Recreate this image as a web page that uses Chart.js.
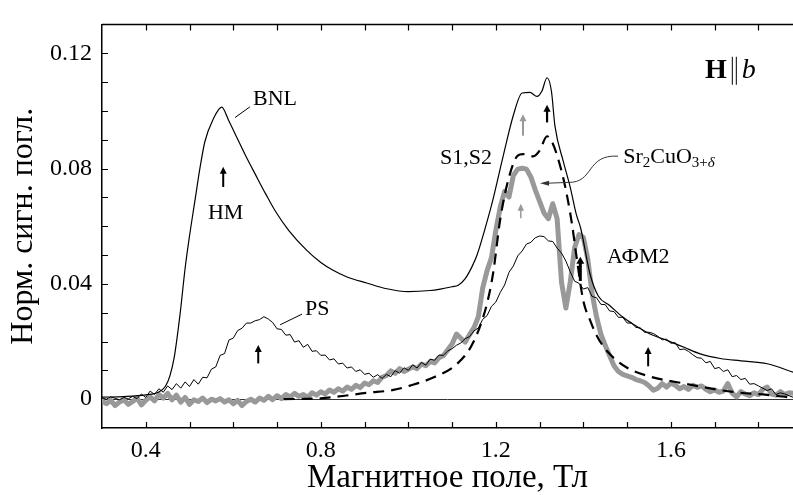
<!DOCTYPE html>
<html>
<head>
<meta charset="utf-8">
<script src="https://cdn.jsdelivr.net/npm/chart.js@4.4.1/dist/chart.umd.min.js"></script>
<style>
  html, body { margin: 0; padding: 0; background: #fff; }
  canvas { display: block; }
</style>
</head>
<body>
<canvas id="chart" width="793" height="495"></canvas>
<script>
// field grid (T) on which the two noisy traces were read
const gridField = [
  0.30, 0.31, 0.32, 0.33, 0.34, 0.35, 0.36, 0.37, 0.38, 0.39,
  0.40, 0.41, 0.42, 0.43, 0.44, 0.45, 0.46, 0.47, 0.48, 0.49,
  0.50, 0.51, 0.52, 0.53, 0.54, 0.55, 0.56, 0.57, 0.58, 0.59,
  0.60, 0.61, 0.62, 0.63, 0.64, 0.65, 0.66, 0.67, 0.68, 0.69,
  0.70, 0.71, 0.72, 0.73, 0.74, 0.75, 0.76, 0.77, 0.78, 0.79,
  0.80, 0.81, 0.82, 0.83, 0.84, 0.85, 0.86, 0.87, 0.88, 0.89,
  0.90, 0.91, 0.92, 0.93, 0.94, 0.95, 0.96, 0.97, 0.98, 0.99,
  1.00, 1.01, 1.02, 1.03, 1.04, 1.05, 1.06, 1.07, 1.08, 1.09,
  1.10, 1.11, 1.12, 1.13, 1.14, 1.15, 1.16, 1.17, 1.18, 1.19,
  1.20, 1.21, 1.22, 1.23, 1.24, 1.25, 1.26, 1.27, 1.28, 1.29,
  1.30, 1.31, 1.32, 1.33, 1.34, 1.35, 1.36, 1.37, 1.38, 1.39,
  1.40, 1.41, 1.42, 1.43, 1.44, 1.45, 1.46, 1.47, 1.48, 1.49,
  1.50, 1.51, 1.52, 1.53, 1.54, 1.55, 1.56, 1.57, 1.58, 1.59,
  1.60, 1.61, 1.62, 1.63, 1.64, 1.65, 1.66, 1.67, 1.68, 1.69,
  1.70, 1.71, 1.72, 1.73, 1.74, 1.75, 1.76, 1.77, 1.78, 1.79,
  1.80, 1.81, 1.82, 1.83, 1.84, 1.85, 1.86, 1.87, 1.88
];

// PS sample (thin noisy black line)
const psSignal = [
  0.0004, 0.0000, 0.0008, 0.0003, -0.0002, 0.0006, 0.0001, 0.0010, 0.0002, 0.0018,
  0.0006, 0.0028, 0.0016, 0.0036, 0.0024, 0.0046, 0.0033, 0.0054, 0.0038, 0.0060,
  0.0044, 0.0068, 0.0052, 0.0076, 0.0074, 0.0104, 0.0112, 0.0152, 0.0158, 0.0205,
  0.0212, 0.0238, 0.0246, 0.0264, 0.0264, 0.0272, 0.0276, 0.0286, 0.0278, 0.0266,
  0.0244, 0.0242, 0.0222, 0.0224, 0.0198, 0.0203, 0.0180, 0.0190, 0.0166, 0.0168,
  0.0152, 0.0153, 0.0136, 0.0140, 0.0122, 0.0125, 0.0108, 0.0112, 0.0096, 0.0102,
  0.0086, 0.0090, 0.0076, 0.0085, 0.0072, 0.0086, 0.0078, 0.0099, 0.0090, 0.0109,
  0.0100, 0.0119, 0.0108, 0.0127, 0.0118, 0.0139, 0.0135, 0.0153, 0.0152, 0.0167,
  0.0175, 0.0187, 0.0195, 0.0210, 0.0217, 0.0237, 0.0247, 0.0277, 0.0290, 0.0322,
  0.0337, 0.0370, 0.0396, 0.0440, 0.0462, 0.0497, 0.0514, 0.0538, 0.0544, 0.0560,
  0.0566, 0.0564, 0.0549, 0.0547, 0.0524, 0.0507, 0.0479, 0.0442, 0.0409, 0.0402,
  0.0382, 0.0387, 0.0356, 0.0352, 0.0329, 0.0328, 0.0306, 0.0304, 0.0284, 0.0284,
  0.0264, 0.0264, 0.0249, 0.0247, 0.0232, 0.0232, 0.0228, 0.0218, 0.0206, 0.0208,
  0.0194, 0.0196, 0.0172, 0.0174, 0.0166, 0.0154, 0.0144, 0.0142, 0.0126, 0.0131,
  0.0106, 0.0110, 0.0096, 0.0102, 0.0078, 0.0082, 0.0068, 0.0072, 0.0052, 0.0054,
  0.0046, 0.0038, 0.0030, 0.0036, 0.0016, 0.0022, 0.0018, 0.0012, 0.0006
];

// Sr2CuO3+d (thick grey line)
const srSignal = [
  -0.0006, -0.0016, -0.0004, -0.0022, -0.0010, -0.0002, -0.0018, -0.0008, 0.0004, -0.0020,
  -0.0004, 0.0008, -0.0006, 0.0016, 0.0004, 0.0020, -0.0002, 0.0014, -0.0010, 0.0006,
  -0.0018, -0.0002, -0.0008, 0.0004, -0.0012, 0.0000, -0.0006, 0.0002, -0.0010, -0.0002,
  -0.0016, -0.0004, -0.0022, -0.0008, 0.0000, -0.0010, 0.0004, -0.0004, 0.0010, -0.0002,
  0.0012, 0.0002, 0.0016, 0.0008, 0.0020, 0.0010, 0.0016, 0.0006, 0.0022, 0.0014,
  0.0026, 0.0018, 0.0032, 0.0024, 0.0036, 0.0028, 0.0042, 0.0034, 0.0048, 0.0040,
  0.0056, 0.0050, 0.0064, 0.0058, 0.0076, 0.0082, 0.0098, 0.0090, 0.0106, 0.0096,
  0.0104, 0.0112, 0.0106, 0.0122, 0.0116, 0.0131, 0.0126, 0.0144, 0.0151, 0.0171,
  0.0191, 0.0226, 0.0211, 0.0198, 0.0224, 0.0248, 0.0286, 0.0386, 0.0446, 0.0491,
  0.0586, 0.0666, 0.0721, 0.0701, 0.0776, 0.0798, 0.0801, 0.0798, 0.0771, 0.0726,
  0.0686, 0.0646, 0.0626, 0.0678, 0.0626, 0.0406, 0.0316, 0.0406, 0.0526, 0.0571,
  0.0561, 0.0486, 0.0366, 0.0286, 0.0226, 0.0186, 0.0151, 0.0116, 0.0096, 0.0086,
  0.0081, 0.0076, 0.0068, 0.0064, 0.0058, 0.0046, 0.0031, 0.0038, 0.0054, 0.0042,
  0.0056, 0.0048, 0.0036, 0.0044, 0.0034, 0.0048, 0.0041, 0.0046, 0.0034, 0.0026,
  0.0032, 0.0024, 0.0028, 0.0054, 0.0021, 0.0008, 0.0026, 0.0018, 0.0012, 0.0022,
  0.0016, 0.0034, 0.0042, 0.0018, 0.0014, 0.0026, 0.0016, 0.0022, 0.0020
];

// BNL sample (thin smooth black line)
const bnlField = [
  0.30, 0.35, 0.40, 0.43, 0.445, 0.455, 0.465, 0.478, 0.49, 0.499,
  0.512, 0.524, 0.535, 0.554, 0.5735, 0.59, 0.609, 0.628, 0.651, 0.674,
  0.697, 0.727, 0.768, 0.80, 0.828, 0.86, 0.905, 0.951, 1.00, 1.05,
  1.073, 1.10, 1.114, 1.13, 1.145, 1.157, 1.175, 1.191, 1.217, 1.24,
  1.26, 1.278, 1.294, 1.305, 1.317, 1.327, 1.335, 1.355, 1.37, 1.384,
  1.394, 1.415, 1.434, 1.46, 1.49, 1.514, 1.55, 1.591, 1.63, 1.667,
  1.713, 1.76, 1.82, 1.88
];
const bnlSignal = [
  0.0007, 0.0009, 0.0015, 0.0025, 0.0045, 0.0080, 0.0145, 0.0290, 0.0455, 0.0556,
  0.0685, 0.0803, 0.0893, 0.0971, 0.1013, 0.0965, 0.0905, 0.0845, 0.0778, 0.0712,
  0.0650, 0.0585, 0.0516, 0.0474, 0.0447, 0.0424, 0.0403, 0.0383, 0.0373, 0.0377,
  0.0382, 0.0390, 0.0395, 0.0418, 0.0458, 0.0500, 0.0590, 0.0678, 0.0845, 0.0985,
  0.1062, 0.1064, 0.1050, 0.1068, 0.1115, 0.1068, 0.0948, 0.0820, 0.0735, 0.0640,
  0.0592, 0.0435, 0.0358, 0.0325, 0.0285, 0.0260, 0.0228, 0.0204, 0.0180, 0.0157,
  0.0141, 0.0133, 0.0123, 0.0093
];

// dashed black curve
const fitField = [
  0.715, 0.80, 0.85, 0.905, 0.966, 1.004, 1.057, 1.111, 1.149, 1.18,
  1.194, 1.21, 1.23, 1.25, 1.262, 1.285, 1.30, 1.317, 1.33, 1.342,
  1.354, 1.365, 1.374, 1.385, 1.40, 1.415, 1.43, 1.454, 1.50, 1.553,
  1.628, 1.742, 1.82, 1.88
];
const fitSignal = [
  0.0000, 0.0003, 0.0011, 0.0022, 0.0032, 0.0047, 0.0075, 0.0122, 0.0199, 0.0333,
  0.0440, 0.0624, 0.0770, 0.0845, 0.0850, 0.0842, 0.0862, 0.0912, 0.0887, 0.0835,
  0.0767, 0.0687, 0.0607, 0.0487, 0.0340, 0.0275, 0.0222, 0.0167, 0.0109, 0.0078,
  0.0055, 0.0025, 0.0015, 0.0005
];

// axes
const xLabelTicks = [0.4, 0.8, 1.2, 1.6];
const yLabelTicks = [0, 0.04, 0.08, 0.12];
const xTickMarks = [0.4, 0.5, 0.6, 0.7, 0.8, 0.9, 1.0, 1.1, 1.2, 1.3, 1.4, 1.5, 1.6, 1.7, 1.8];
const yTickMarks = [0.01, 0.02, 0.03, 0.04, 0.05, 0.06, 0.07, 0.08, 0.09, 0.10, 0.11, 0.12];

// labels and arrows, in data units
const labels = [
  { text: 'BNL', x: 0.645, y: 0.1041 },
  { text: 'HM', x: 0.542, y: 0.0645 },
  { text: 'PS', x: 0.764, y: 0.0312 },
  { text: 'S1,S2', x: 1.0726, y: 0.0836 },
  { text: 'АФМ2', x: 1.454, y: 0.0493 }
];
const leaders = [
  [0.604, 0.0977, 0.638, 0.1014],
  [0.707, 0.0258, 0.757, 0.0295]
];
const arrows = [
  { x: 0.577, from: 0.0736, to: 0.0806, color: '#000', w: 2 },
  { x: 0.657, from: 0.0124, to: 0.0188, color: '#000', w: 2 },
  { x: 1.262, from: 0.0914, to: 0.0988, color: '#999', w: 2 },
  { x: 1.257, from: 0.0628, to: 0.0678, color: '#999', w: 1.5 },
  { x: 1.317, from: 0.0960, to: 0.1021, color: '#000', w: 2.2 },
  { x: 1.393, from: 0.0410, to: 0.0494, color: '#000', w: 3 },
  { x: 1.548, from: 0.0114, to: 0.0181, color: '#000', w: 2 }
];

const serif = '"Liberation Serif", "DejaVu Serif", serif';

function pairs(xs, ys) {
  return xs.map((x, i) => ({ x: x, y: ys[i] }));
}

function arrowHead(ctx, x, y, dx, dy, len, half) {
  const n = Math.hypot(dx, dy);
  const ux = dx / n, uy = dy / n;
  ctx.beginPath();
  ctx.moveTo(x, y);
  ctx.lineTo(x - ux * len - uy * half, y - uy * len + ux * half);
  ctx.lineTo(x - ux * len + uy * half, y - uy * len - ux * half);
  ctx.closePath();
  ctx.fill();
}

const decorations = {
  id: 'decorations',
  beforeDatasetsDraw(chart) {
    const { ctx, chartArea: a, scales: { y } } = chart;
    const y0 = Math.round(y.getPixelForValue(0)) + 0.5;
    ctx.save();
    ctx.strokeStyle = '#333';
    ctx.lineWidth = 1;
    ctx.beginPath();
    ctx.moveTo(a.left, y0);
    ctx.lineTo(a.right, y0);
    ctx.stroke();
    ctx.restore();
  },
  afterDraw(chart) {
    const { ctx, chartArea: a, scales: { x, y } } = chart;
    ctx.save();
    // top frame line and inward ticks
    ctx.strokeStyle = '#000';
    ctx.lineWidth = 1.5;
    ctx.beginPath();
    ctx.moveTo(a.left, a.top);
    ctx.lineTo(a.right, a.top);
    ctx.stroke();
    ctx.lineWidth = 1.2;
    ctx.beginPath();
    xTickMarks.forEach(v => {
      const px = Math.round(x.getPixelForValue(v)) + 0.5;
      ctx.moveTo(px, a.bottom);
      ctx.lineTo(px, a.bottom - 6);
      ctx.moveTo(px, a.top);
      ctx.lineTo(px, a.top + 6);
    });
    yTickMarks.forEach(v => {
      const py = Math.round(y.getPixelForValue(v)) + 0.5;
      ctx.moveTo(a.left, py);
      ctx.lineTo(a.left + 6, py);
    });
    ctx.stroke();

    // text labels
    ctx.fillStyle = '#000';
    ctx.textBaseline = 'middle';
    ctx.font = '22px ' + serif;
    labels.forEach(l => ctx.fillText(l.text, x.getPixelForValue(l.x), y.getPixelForValue(l.y)));

    // short leader lines
    ctx.lineWidth = 1;
    leaders.forEach(s => {
      ctx.beginPath();
      ctx.moveTo(x.getPixelForValue(s[0]), y.getPixelForValue(s[1]));
      ctx.lineTo(x.getPixelForValue(s[2]), y.getPixelForValue(s[3]));
      ctx.stroke();
    });

    // vertical arrows
    arrows.forEach(r => {
      const px = x.getPixelForValue(r.x);
      const p1 = y.getPixelForValue(r.from);
      const p2 = y.getPixelForValue(r.to);
      ctx.strokeStyle = r.color;
      ctx.fillStyle = r.color;
      ctx.lineWidth = r.w;
      ctx.beginPath();
      ctx.moveTo(px, p1);
      ctx.lineTo(px, p2 + 5);
      ctx.stroke();
      arrowHead(ctx, px, p2, 0, -1, 7, 2.5 + r.w * 0.5);
    });

    // Sr2CuO3+d label with curved pointer
    const sx = x.getPixelForValue(1.491), sy = y.getPixelForValue(0.0846);
    ctx.fillStyle = '#000';
    ctx.textBaseline = 'alphabetic';
    const base = sy + 8;
    let cx = sx;
    const big = '22px ' + serif, small = '15px ' + serif;
    [['Sr', big, 0], ['2', small, 4], ['CuO', big, 0], ['3+', small, 4]].forEach(p => {
      ctx.font = p[1];
      ctx.fillText(p[0], cx, base + p[2]);
      cx += ctx.measureText(p[0]).width;
    });
    ctx.font = 'italic ' + small;
    ctx.fillText('δ', cx, base + 4);

    ctx.strokeStyle = '#333';
    ctx.fillStyle = '#333';
    ctx.lineWidth = 1;
    ctx.beginPath();
    ctx.moveTo(x.getPixelForValue(1.479), y.getPixelForValue(0.0843));
    ctx.bezierCurveTo(
      x.getPixelForValue(1.405), y.getPixelForValue(0.0849),
      x.getPixelForValue(1.425), y.getPixelForValue(0.0749),
      x.getPixelForValue(1.365), y.getPixelForValue(0.0752));
    ctx.lineTo(x.getPixelForValue(1.316), y.getPixelForValue(0.0749));
    ctx.stroke();
    arrowHead(ctx, x.getPixelForValue(1.301), y.getPixelForValue(0.0749), -1, 0, 9, 2.5);

    // H || b
    const hx = x.getPixelForValue(1.678), hy = y.getPixelForValue(0.1146) + 9;
    ctx.fillStyle = '#000';
    ctx.font = 'bold 28px ' + serif;
    ctx.fillText('H', hx, hy);
    const hx2 = hx + ctx.measureText('H').width + 5;
    ctx.strokeStyle = '#000';
    ctx.lineWidth = 1;
    ctx.beginPath();
    ctx.moveTo(hx2 + 0.5, hy - 21); ctx.lineTo(hx2 + 0.5, hy + 7);
    ctx.moveTo(hx2 + 4.5, hy - 21); ctx.lineTo(hx2 + 4.5, hy + 7);
    ctx.stroke();
    ctx.font = 'italic 28px ' + serif;
    ctx.fillText('b', hx2 + 10, hy);
    ctx.restore();
  }
};

new Chart(document.getElementById('chart'), {
  type: 'line',
  data: {
    datasets: [
      {
        label: 'BNL',
        data: pairs(bnlField, bnlSignal),
        borderColor: '#000',
        borderWidth: 1.2,
        pointRadius: 0,
        cubicInterpolationMode: 'monotone'
      },
      {
        label: 'PS',
        data: pairs(gridField, psSignal),
        borderColor: '#000',
        borderWidth: 1,
        pointRadius: 0,
        tension: 0
      },
      {
        label: 'fit',
        data: pairs(fitField, fitSignal),
        borderColor: '#000',
        borderWidth: 2.2,
        borderDash: [11, 7],
        pointRadius: 0,
        cubicInterpolationMode: 'monotone'
      },
      {
        label: 'Sr2CuO3+δ',
        data: pairs(gridField, srSignal),
        borderColor: '#999',
        borderWidth: 5,
        borderJoinStyle: 'round',
        borderCapStyle: 'round',
        pointRadius: 0,
        tension: 0
      }
    ]
  },
  options: {
    responsive: false,
    animation: false,
    layout: { padding: { top: 12, right: 0, left: 0, bottom: 0 } },
    plugins: { legend: { display: false }, tooltip: { enabled: false } },
    scales: {
      x: {
        type: 'linear',
        min: 0.3,
        max: 1.879,
        afterFit(s) { s.height = 67; },
        afterBuildTicks(s) { s.ticks = xLabelTicks.map(v => ({ value: v })); },
        grid: { display: false, drawTicks: false },
        border: { color: '#000', width: 1.5 },
        ticks: {
          color: '#000',
          padding: 8,
          font: { family: serif, size: 24 },
          callback: v => v.toFixed(1)
        },
        title: {
          display: true,
          text: 'Магнитное поле, Тл',
          color: '#000',
          font: { family: serif, size: 33, lineHeight: 1 },
          padding: { top: 0, bottom: 0 }
        }
      },
      y: {
        type: 'linear',
        min: -0.01,
        max: 0.13,
        afterFit(s) { s.width = 102; },
        afterBuildTicks(s) { s.ticks = yLabelTicks.map(v => ({ value: v })); },
        grid: { display: false, drawTicks: false },
        border: { color: '#000', width: 1.5 },
        ticks: {
          color: '#000',
          padding: 10,
          font: { family: serif, size: 24 },
          callback: v => (v === 0 ? '0' : v.toFixed(2))
        },
        title: {
          display: true,
          text: 'Норм. сигн. погл.',
          color: '#000',
          font: { family: serif, size: 32, lineHeight: 1 },
          padding: { top: 8, bottom: 0 }
        }
      }
    }
  },
  plugins: [decorations]
});
</script>
</body>
</html>
